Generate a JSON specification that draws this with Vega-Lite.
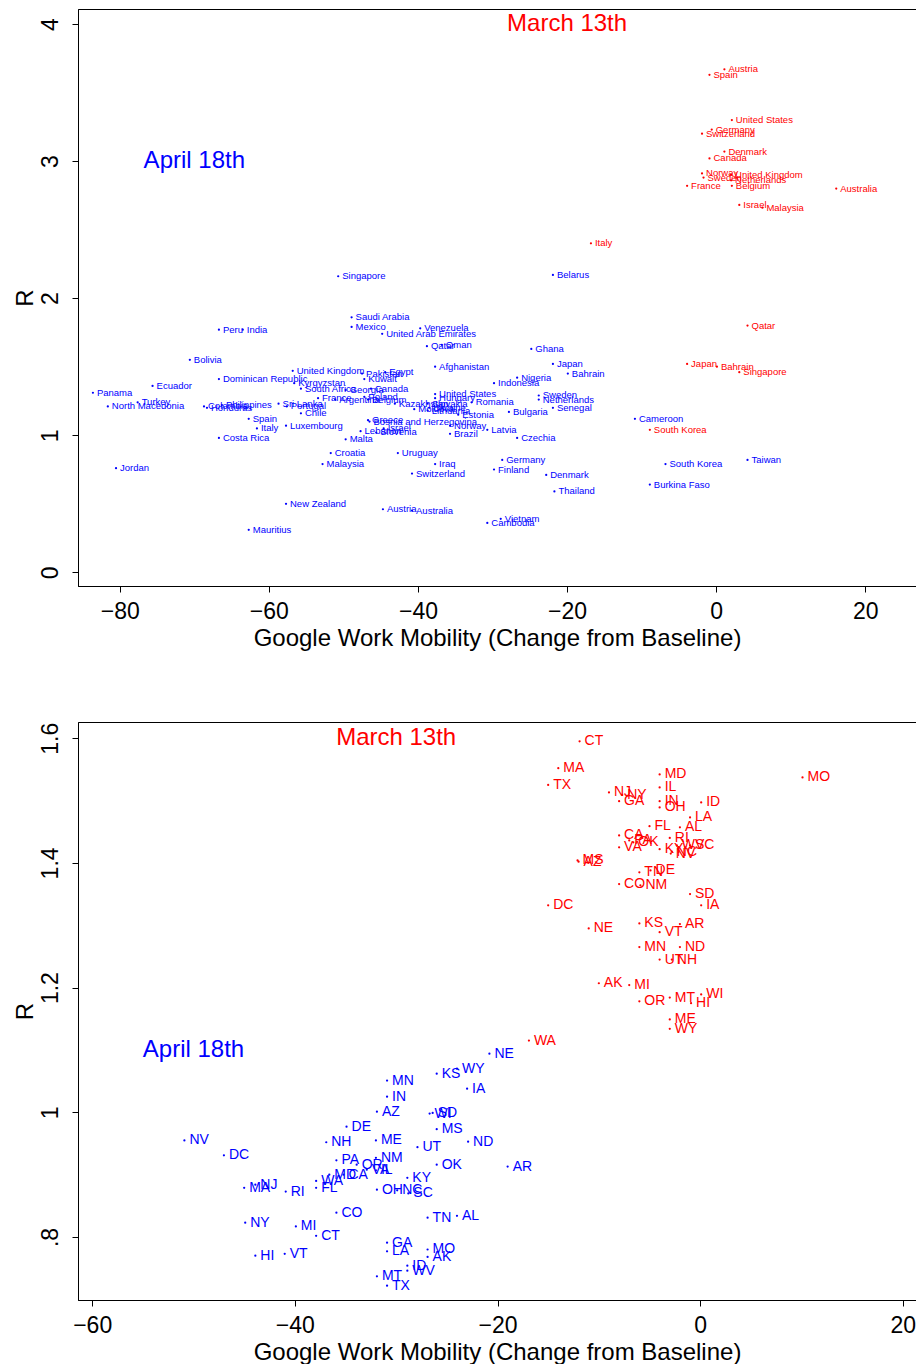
{
  "$schema": "https://vega.github.io/schema/vega-lite/v6.json",
  "padding": {"left": 12, "top": 8, "right": 0, "bottom": 0},
  "background": "white",
  "config": {
    "font": "Liberation Sans",
    "view": {"stroke": "black", "strokeWidth": 1},
    "axis": {
      "grid": false, "domainColor": "black", "tickColor": "black", "labelColor": "black", "titleColor": "black",
      "labelFont": "Liberation Sans", "titleFont": "Liberation Sans", "labelFontSize": 23, "titleFontSize": 24,
      "titleFontWeight": "normal", "tickSize": 6, "domainWidth": 1, "tickWidth": 1
    },
    "axisX": {"labelPadding": 8, "titlePadding": 3},
    "axisY": {"labelAngle": -90, "labelAlign": "center", "labelBaseline": "bottom", "labelPadding": 10, "titlePadding": 2}
  },
  "spacing": 70,
  "datasets": {
    "countries": [
      {"name": "Austria", "period": "March 13th", "mobility": 1.1, "R": 3.67},
      {"name": "Spain", "period": "March 13th", "mobility": -0.9, "R": 3.63},
      {"name": "United States", "period": "March 13th", "mobility": 2.1, "R": 3.30},
      {"name": "Germany", "period": "March 13th", "mobility": -0.6, "R": 3.23},
      {"name": "Switzerland", "period": "March 13th", "mobility": -1.9, "R": 3.20},
      {"name": "Denmark", "period": "March 13th", "mobility": 1.1, "R": 3.07},
      {"name": "Canada", "period": "March 13th", "mobility": -0.9, "R": 3.02},
      {"name": "Norway", "period": "March 13th", "mobility": -1.9, "R": 2.91},
      {"name": "Sweden", "period": "March 13th", "mobility": -1.7, "R": 2.88},
      {"name": "United Kingdom", "period": "March 13th", "mobility": 2.0, "R": 2.90},
      {"name": "Netherlands", "period": "March 13th", "mobility": 2.0, "R": 2.86},
      {"name": "France", "period": "March 13th", "mobility": -3.9, "R": 2.82},
      {"name": "Belgium", "period": "March 13th", "mobility": 2.1, "R": 2.82},
      {"name": "Israel", "period": "March 13th", "mobility": 3.1, "R": 2.68},
      {"name": "Malaysia", "period": "March 13th", "mobility": 6.2, "R": 2.66},
      {"name": "Australia", "period": "March 13th", "mobility": 16.1, "R": 2.80},
      {"name": "Italy", "period": "March 13th", "mobility": -16.8, "R": 2.40},
      {"name": "Qatar", "period": "March 13th", "mobility": 4.2, "R": 1.80},
      {"name": "Japan", "period": "March 13th", "mobility": -3.9, "R": 1.52},
      {"name": "Bahrain", "period": "March 13th", "mobility": 0.1, "R": 1.50},
      {"name": "Singapore", "period": "March 13th", "mobility": 3.1, "R": 1.46},
      {"name": "South Korea", "period": "March 13th", "mobility": -8.9, "R": 1.04},
      {"name": "Singapore", "period": "April 18th", "mobility": -50.7, "R": 2.16},
      {"name": "Belarus", "period": "April 18th", "mobility": -21.9, "R": 2.17},
      {"name": "Saudi Arabia", "period": "April 18th", "mobility": -48.9, "R": 1.86},
      {"name": "Mexico", "period": "April 18th", "mobility": -48.9, "R": 1.79},
      {"name": "United Arab Emirates", "period": "April 18th", "mobility": -44.8, "R": 1.74},
      {"name": "Venezuela", "period": "April 18th", "mobility": -39.7, "R": 1.78},
      {"name": "Qatar", "period": "April 18th", "mobility": -38.8, "R": 1.65},
      {"name": "Oman", "period": "April 18th", "mobility": -36.8, "R": 1.66},
      {"name": "Ghana", "period": "April 18th", "mobility": -24.8, "R": 1.63},
      {"name": "Peru", "period": "April 18th", "mobility": -66.7, "R": 1.77},
      {"name": "India", "period": "April 18th", "mobility": -63.5, "R": 1.77},
      {"name": "Bolivia", "period": "April 18th", "mobility": -70.6, "R": 1.55},
      {"name": "Japan", "period": "April 18th", "mobility": -21.9, "R": 1.52},
      {"name": "Afghanistan", "period": "April 18th", "mobility": -37.7, "R": 1.50},
      {"name": "United Kingdom", "period": "April 18th", "mobility": -56.8, "R": 1.47},
      {"name": "Pakistan", "period": "April 18th", "mobility": -47.5, "R": 1.45},
      {"name": "Egypt", "period": "April 18th", "mobility": -44.4, "R": 1.46},
      {"name": "Dominican Republic", "period": "April 18th", "mobility": -66.7, "R": 1.41},
      {"name": "Kuwait", "period": "April 18th", "mobility": -47.2, "R": 1.41},
      {"name": "Nigeria", "period": "April 18th", "mobility": -26.7, "R": 1.42},
      {"name": "Bahrain", "period": "April 18th", "mobility": -19.9, "R": 1.45},
      {"name": "Kyrgyzstan", "period": "April 18th", "mobility": -56.6, "R": 1.38},
      {"name": "Indonesia", "period": "April 18th", "mobility": -29.8, "R": 1.38},
      {"name": "Ecuador", "period": "April 18th", "mobility": -75.6, "R": 1.36},
      {"name": "South Africa", "period": "April 18th", "mobility": -55.7, "R": 1.34},
      {"name": "Georgia", "period": "April 18th", "mobility": -49.7, "R": 1.33},
      {"name": "Canada", "period": "April 18th", "mobility": -46.3, "R": 1.34},
      {"name": "Panama", "period": "April 18th", "mobility": -83.6, "R": 1.31},
      {"name": "France", "period": "April 18th", "mobility": -53.4, "R": 1.27},
      {"name": "Argentina", "period": "April 18th", "mobility": -51.1, "R": 1.26},
      {"name": "Poland", "period": "April 18th", "mobility": -47.2, "R": 1.28},
      {"name": "United States", "period": "April 18th", "mobility": -37.7, "R": 1.30},
      {"name": "Sweden", "period": "April 18th", "mobility": -23.8, "R": 1.29},
      {"name": "Hungary", "period": "April 18th", "mobility": -37.7, "R": 1.27},
      {"name": "Romania", "period": "April 18th", "mobility": -32.8, "R": 1.24},
      {"name": "Netherlands", "period": "April 18th", "mobility": -23.8, "R": 1.26},
      {"name": "Belgium", "period": "April 18th", "mobility": -46.7, "R": 1.26},
      {"name": "Kazakhstan", "period": "April 18th", "mobility": -43.1, "R": 1.23},
      {"name": "Slovakia", "period": "April 18th", "mobility": -38.7, "R": 1.23},
      {"name": "Turkey", "period": "April 18th", "mobility": -77.6, "R": 1.24},
      {"name": "North Macedonia", "period": "April 18th", "mobility": -81.6, "R": 1.21},
      {"name": "Colombia", "period": "April 18th", "mobility": -68.7, "R": 1.21},
      {"name": "Philippines", "period": "April 18th", "mobility": -66.3, "R": 1.22},
      {"name": "Honduras", "period": "April 18th", "mobility": -68.3, "R": 1.20},
      {"name": "Sri Lanka", "period": "April 18th", "mobility": -58.7, "R": 1.23},
      {"name": "Portugal", "period": "April 18th", "mobility": -57.6, "R": 1.21},
      {"name": "Moldova", "period": "April 18th", "mobility": -40.5, "R": 1.19},
      {"name": "Ukraine", "period": "April 18th", "mobility": -38.5, "R": 1.20},
      {"name": "Lithuania", "period": "April 18th", "mobility": -38.7, "R": 1.18},
      {"name": "Senegal", "period": "April 18th", "mobility": -21.9, "R": 1.20},
      {"name": "Bulgaria", "period": "April 18th", "mobility": -27.8, "R": 1.17},
      {"name": "Chile", "period": "April 18th", "mobility": -55.7, "R": 1.16},
      {"name": "Estonia", "period": "April 18th", "mobility": -34.6, "R": 1.15},
      {"name": "Spain", "period": "April 18th", "mobility": -62.7, "R": 1.12},
      {"name": "Greece", "period": "April 18th", "mobility": -46.7, "R": 1.11},
      {"name": "Bosnia and Herzegovina", "period": "April 18th", "mobility": -46.5, "R": 1.10},
      {"name": "Norway", "period": "April 18th", "mobility": -35.7, "R": 1.07},
      {"name": "Cameroon", "period": "April 18th", "mobility": -10.9, "R": 1.12},
      {"name": "Luxembourg", "period": "April 18th", "mobility": -57.7, "R": 1.07},
      {"name": "Italy", "period": "April 18th", "mobility": -61.6, "R": 1.05},
      {"name": "Israel", "period": "April 18th", "mobility": -44.6, "R": 1.05},
      {"name": "Lebanon", "period": "April 18th", "mobility": -47.7, "R": 1.03},
      {"name": "Slovenia", "period": "April 18th", "mobility": -45.6, "R": 1.02},
      {"name": "Latvia", "period": "April 18th", "mobility": -30.7, "R": 1.04},
      {"name": "Brazil", "period": "April 18th", "mobility": -35.7, "R": 1.01},
      {"name": "Costa Rica", "period": "April 18th", "mobility": -66.7, "R": 0.98},
      {"name": "Malta", "period": "April 18th", "mobility": -49.7, "R": 0.97},
      {"name": "Czechia", "period": "April 18th", "mobility": -26.7, "R": 0.98},
      {"name": "Croatia", "period": "April 18th", "mobility": -51.7, "R": 0.87},
      {"name": "Uruguay", "period": "April 18th", "mobility": -42.7, "R": 0.87},
      {"name": "Germany", "period": "April 18th", "mobility": -28.7, "R": 0.82},
      {"name": "Malaysia", "period": "April 18th", "mobility": -52.8, "R": 0.79},
      {"name": "Iraq", "period": "April 18th", "mobility": -37.7, "R": 0.79},
      {"name": "Finland", "period": "April 18th", "mobility": -29.8, "R": 0.75},
      {"name": "South Korea", "period": "April 18th", "mobility": -6.8, "R": 0.79},
      {"name": "Jordan", "period": "April 18th", "mobility": -80.5, "R": 0.76},
      {"name": "Switzerland", "period": "April 18th", "mobility": -40.8, "R": 0.72},
      {"name": "Denmark", "period": "April 18th", "mobility": -22.8, "R": 0.71},
      {"name": "Taiwan", "period": "April 18th", "mobility": 4.2, "R": 0.82},
      {"name": "Thailand", "period": "April 18th", "mobility": -21.7, "R": 0.59},
      {"name": "Burkina Faso", "period": "April 18th", "mobility": -8.9, "R": 0.64},
      {"name": "New Zealand", "period": "April 18th", "mobility": -57.7, "R": 0.50},
      {"name": "Austria", "period": "April 18th", "mobility": -44.7, "R": 0.46},
      {"name": "Australia", "period": "April 18th", "mobility": -40.8, "R": 0.45},
      {"name": "Vietnam", "period": "April 18th", "mobility": -28.9, "R": 0.39},
      {"name": "Cambodia", "period": "April 18th", "mobility": -30.7, "R": 0.36},
      {"name": "Mauritius", "period": "April 18th", "mobility": -62.7, "R": 0.31}
    ],
    "states": [
      {"name": "CT", "period": "March 13th", "mobility": -11.9, "R": 1.595},
      {"name": "MA", "period": "March 13th", "mobility": -14.0, "R": 1.552},
      {"name": "TX", "period": "March 13th", "mobility": -15.0, "R": 1.525},
      {"name": "NJ", "period": "March 13th", "mobility": -9.0, "R": 1.513},
      {"name": "NY", "period": "March 13th", "mobility": -7.7, "R": 1.509},
      {"name": "GA", "period": "March 13th", "mobility": -8.0, "R": 1.499},
      {"name": "MD", "period": "March 13th", "mobility": -4.0, "R": 1.542},
      {"name": "IL", "period": "March 13th", "mobility": -4.0, "R": 1.521},
      {"name": "IN", "period": "March 13th", "mobility": -4.0, "R": 1.499},
      {"name": "OH", "period": "March 13th", "mobility": -4.0, "R": 1.489},
      {"name": "ID", "period": "March 13th", "mobility": 0.1, "R": 1.497},
      {"name": "LA", "period": "March 13th", "mobility": -1.0, "R": 1.473},
      {"name": "FL", "period": "March 13th", "mobility": -5.0, "R": 1.459},
      {"name": "AL", "period": "March 13th", "mobility": -2.0, "R": 1.457},
      {"name": "CA", "period": "March 13th", "mobility": -8.0, "R": 1.444},
      {"name": "PA", "period": "March 13th", "mobility": -7.0, "R": 1.436},
      {"name": "OK", "period": "March 13th", "mobility": -6.6, "R": 1.433},
      {"name": "VA", "period": "March 13th", "mobility": -8.0, "R": 1.425},
      {"name": "RI", "period": "March 13th", "mobility": -3.0, "R": 1.440},
      {"name": "WV", "period": "March 13th", "mobility": -2.3, "R": 1.428},
      {"name": "SC", "period": "March 13th", "mobility": -1.0, "R": 1.428},
      {"name": "KY", "period": "March 13th", "mobility": -4.0, "R": 1.422},
      {"name": "NC", "period": "March 13th", "mobility": -2.8, "R": 1.418},
      {"name": "NV", "period": "March 13th", "mobility": -2.9, "R": 1.415},
      {"name": "DE", "period": "March 13th", "mobility": -4.9, "R": 1.388},
      {"name": "TN", "period": "March 13th", "mobility": -6.0, "R": 1.385},
      {"name": "CO", "period": "March 13th", "mobility": -8.0, "R": 1.366},
      {"name": "NM", "period": "March 13th", "mobility": -5.9, "R": 1.364},
      {"name": "AZ", "period": "March 13th", "mobility": -12.0, "R": 1.402},
      {"name": "MS", "period": "March 13th", "mobility": -12.1, "R": 1.404},
      {"name": "SD", "period": "March 13th", "mobility": -1.0, "R": 1.350},
      {"name": "MO", "period": "March 13th", "mobility": 10.1, "R": 1.537},
      {"name": "DC", "period": "March 13th", "mobility": -15.0, "R": 1.332},
      {"name": "IA", "period": "March 13th", "mobility": 0.1, "R": 1.332},
      {"name": "KS", "period": "March 13th", "mobility": -6.0, "R": 1.303},
      {"name": "VT", "period": "March 13th", "mobility": -4.0, "R": 1.289},
      {"name": "AR", "period": "March 13th", "mobility": -2.0, "R": 1.302},
      {"name": "NE", "period": "March 13th", "mobility": -11.0, "R": 1.295},
      {"name": "MN", "period": "March 13th", "mobility": -6.0, "R": 1.265},
      {"name": "ND", "period": "March 13th", "mobility": -2.0, "R": 1.265},
      {"name": "UT", "period": "March 13th", "mobility": -4.0, "R": 1.245},
      {"name": "NH", "period": "March 13th", "mobility": -2.8, "R": 1.245},
      {"name": "AK", "period": "March 13th", "mobility": -10.0, "R": 1.207},
      {"name": "MI", "period": "March 13th", "mobility": -7.0, "R": 1.204},
      {"name": "OR", "period": "March 13th", "mobility": -6.0, "R": 1.178},
      {"name": "MT", "period": "March 13th", "mobility": -3.0, "R": 1.184},
      {"name": "HI", "period": "March 13th", "mobility": -0.9, "R": 1.175},
      {"name": "WI", "period": "March 13th", "mobility": 0.1, "R": 1.189},
      {"name": "ME", "period": "March 13th", "mobility": -3.0, "R": 1.149},
      {"name": "WY", "period": "March 13th", "mobility": -3.0, "R": 1.134},
      {"name": "WA", "period": "March 13th", "mobility": -16.9, "R": 1.115},
      {"name": "NE", "period": "April 18th", "mobility": -20.8, "R": 1.094},
      {"name": "KS", "period": "April 18th", "mobility": -26.0, "R": 1.062},
      {"name": "WY", "period": "April 18th", "mobility": -24.0, "R": 1.070},
      {"name": "IA", "period": "April 18th", "mobility": -23.0, "R": 1.038},
      {"name": "MN", "period": "April 18th", "mobility": -30.9, "R": 1.051},
      {"name": "IN", "period": "April 18th", "mobility": -30.9, "R": 1.025},
      {"name": "AZ", "period": "April 18th", "mobility": -31.9, "R": 1.001},
      {"name": "WI", "period": "April 18th", "mobility": -26.7, "R": 0.998},
      {"name": "SD", "period": "April 18th", "mobility": -26.4, "R": 0.999},
      {"name": "DE", "period": "April 18th", "mobility": -34.9, "R": 0.977},
      {"name": "MS", "period": "April 18th", "mobility": -26.0, "R": 0.973},
      {"name": "NV", "period": "April 18th", "mobility": -50.9, "R": 0.955},
      {"name": "DC", "period": "April 18th", "mobility": -47.0, "R": 0.931},
      {"name": "NH", "period": "April 18th", "mobility": -36.9, "R": 0.952},
      {"name": "ME", "period": "April 18th", "mobility": -32.0, "R": 0.955},
      {"name": "UT", "period": "April 18th", "mobility": -27.9, "R": 0.944},
      {"name": "ND", "period": "April 18th", "mobility": -22.9, "R": 0.953},
      {"name": "PA", "period": "April 18th", "mobility": -35.9, "R": 0.923},
      {"name": "NM", "period": "April 18th", "mobility": -32.0, "R": 0.927},
      {"name": "OR", "period": "April 18th", "mobility": -33.9, "R": 0.916},
      {"name": "VA", "period": "April 18th", "mobility": -32.9, "R": 0.908},
      {"name": "IL", "period": "April 18th", "mobility": -32.0, "R": 0.907},
      {"name": "OK", "period": "April 18th", "mobility": -26.0, "R": 0.916},
      {"name": "AR", "period": "April 18th", "mobility": -19.0, "R": 0.913},
      {"name": "WA", "period": "April 18th", "mobility": -37.9, "R": 0.890},
      {"name": "MD", "period": "April 18th", "mobility": -36.6, "R": 0.900},
      {"name": "CA", "period": "April 18th", "mobility": -35.2, "R": 0.900},
      {"name": "FL", "period": "April 18th", "mobility": -37.9, "R": 0.879},
      {"name": "RI", "period": "April 18th", "mobility": -40.9, "R": 0.873},
      {"name": "MA", "period": "April 18th", "mobility": -45.0, "R": 0.879},
      {"name": "NJ", "period": "April 18th", "mobility": -43.9, "R": 0.884},
      {"name": "KY", "period": "April 18th", "mobility": -28.9, "R": 0.895},
      {"name": "OH", "period": "April 18th", "mobility": -31.9, "R": 0.876},
      {"name": "NC", "period": "April 18th", "mobility": -29.9, "R": 0.875},
      {"name": "SC", "period": "April 18th", "mobility": -28.8, "R": 0.870},
      {"name": "CO", "period": "April 18th", "mobility": -35.9, "R": 0.839},
      {"name": "TN", "period": "April 18th", "mobility": -26.9, "R": 0.831},
      {"name": "AL", "period": "April 18th", "mobility": -24.0, "R": 0.834},
      {"name": "NY", "period": "April 18th", "mobility": -44.9, "R": 0.823},
      {"name": "MI", "period": "April 18th", "mobility": -39.9, "R": 0.817},
      {"name": "CT", "period": "April 18th", "mobility": -37.9, "R": 0.802},
      {"name": "HI", "period": "April 18th", "mobility": -43.9, "R": 0.770},
      {"name": "VT", "period": "April 18th", "mobility": -41.0, "R": 0.773},
      {"name": "GA", "period": "April 18th", "mobility": -30.9, "R": 0.791},
      {"name": "LA", "period": "April 18th", "mobility": -30.9, "R": 0.777},
      {"name": "MO", "period": "April 18th", "mobility": -26.9, "R": 0.780},
      {"name": "AK", "period": "April 18th", "mobility": -26.9, "R": 0.768},
      {"name": "ID", "period": "April 18th", "mobility": -28.9, "R": 0.754},
      {"name": "WV", "period": "April 18th", "mobility": -28.9, "R": 0.746},
      {"name": "MT", "period": "April 18th", "mobility": -31.9, "R": 0.737},
      {"name": "TX", "period": "April 18th", "mobility": -30.9, "R": 0.722}
    ],
    "notesTop": [
      {"label": "March 13th", "period": "March 13th", "mobility": -20, "R": 4.0},
      {"label": "April 18th", "period": "April 18th", "mobility": -70, "R": 3.0}
    ],
    "notesBottom": [
      {"label": "March 13th", "period": "March 13th", "mobility": -30, "R": 1.6},
      {"label": "April 18th", "period": "April 18th", "mobility": -50, "R": 1.1}
    ]
  },
  "vconcat": [
    {
      "width": 838,
      "height": 577,
      "encoding": {
        "x": {"field": "mobility", "type": "quantitative",
          "scale": {"domain": [-85.6, 26.8], "nice": false, "zero": false},
          "axis": {"title": "Google Work Mobility (Change from Baseline)", "values": [-80, -60, -40, -20, 0, 20]}},
        "y": {"field": "R", "type": "quantitative",
          "scale": {"domain": [-0.1, 4.11], "nice": false, "zero": false},
          "axis": {"title": "R", "values": [0, 1, 2, 3, 4]}},
        "color": {"field": "period", "type": "nominal",
          "scale": {"domain": ["March 13th", "April 18th"], "range": ["#ff0000", "#0000ff"]}, "legend": null}
      },
      "layer": [
        {"mark": {"type": "rule", "strokeDash": [12, 8], "strokeWidth": 2, "color": "black"}, "encoding": {"x": {"datum": 0}, "y": null, "color": null}},
        {"mark": {"type": "rule", "strokeDash": [12, 8], "strokeWidth": 2, "color": "black"}, "encoding": {"y": {"datum": 1}, "x": null, "color": null}},
        {"data": {"name": "countries"}, "mark": {"type": "circle", "size": 5, "opacity": 1}},
        {"data": {"name": "countries"}, "mark": {"type": "text", "align": "left", "baseline": "middle", "dx": 4, "fontSize": 9.5, "font": "Liberation Sans"}, "encoding": {"text": {"field": "name"}}},
        {"data": {"name": "notesTop"}, "mark": {"type": "text", "align": "center", "baseline": "middle", "fontSize": 24, "font": "Liberation Sans"}, "encoding": {"text": {"field": "label"}}}
      ]
    },
    {
      "width": 838,
      "height": 578,
      "encoding": {
        "x": {"field": "mobility", "type": "quantitative",
          "scale": {"domain": [-61.4, 21.3], "nice": false, "zero": false},
          "axis": {"title": "Google Work Mobility (Change from Baseline)", "values": [-60, -40, -20, 0, 20]}},
        "y": {"field": "R", "type": "quantitative",
          "scale": {"domain": [0.699, 1.626], "nice": false, "zero": false},
          "axis": {"title": "R", "values": [0.8, 1, 1.2, 1.4, 1.6], "labelExpr": "replace(format(datum.value, '~g'), '0.', '.')"}},
        "color": {"field": "period", "type": "nominal",
          "scale": {"domain": ["March 13th", "April 18th"], "range": ["#ff0000", "#0000ff"]}, "legend": null}
      },
      "layer": [
        {"mark": {"type": "rule", "strokeDash": [12, 8], "strokeWidth": 2, "color": "black"}, "encoding": {"x": {"datum": 0}, "y": null, "color": null}},
        {"mark": {"type": "rule", "strokeDash": [12, 8], "strokeWidth": 2, "color": "black"}, "encoding": {"y": {"datum": 1}, "x": null, "color": null}},
        {"data": {"name": "states"}, "mark": {"type": "circle", "size": 5, "opacity": 1}},
        {"data": {"name": "states"}, "mark": {"type": "text", "align": "left", "baseline": "middle", "dx": 5, "fontSize": 14, "font": "Liberation Sans"}, "encoding": {"text": {"field": "name"}}},
        {"data": {"name": "notesBottom"}, "mark": {"type": "text", "align": "center", "baseline": "middle", "fontSize": 24, "font": "Liberation Sans"}, "encoding": {"text": {"field": "label"}}}
      ]
    }
  ]
}
